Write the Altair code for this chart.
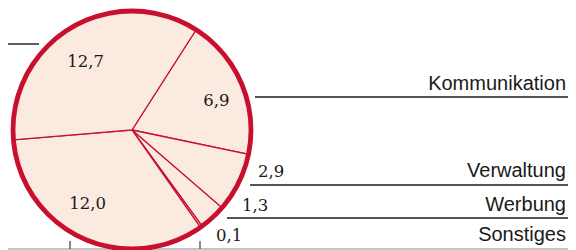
import math
import altair as alt
import pandas as pd

# ---------------- data ----------------
segments = ["Kommunikation", "Verwaltung", "Werbung", "Sonstiges", "Segment 5", "Segment 6"]
values = [6.9, 2.9, 1.3, 0.1, 12.0, 12.7]
value_text = ["6,9", "2,9", "1,3", "0,1", "12,0", "12,7"]
inside = [True, False, False, False, True, True]
named_rows = ["Kommunikation", "Verwaltung", "Werbung", "Sonstiges"]

# ---------------- layout (pixels, page offset removed) ----------------
OFF = 8
W, H = 576 - 2 * OFF, 250 - OFF
CX, CY, R = 132 - OFF, 130 - OFF, 119
START = math.radians(32.6)
RED = "#c8102e"
FILL = "#fbeadf"
INK = "#1a1a1a"

# small nudges for the labels inside the pie (dx, dy)
inner_nudge = {"Kommunikation": (5, 4), "Segment 5": (-8, -4), "Segment 6": (-2, 6)}

row_baseline = {"Kommunikation": 82, "Verwaltung": 169, "Werbung": 203, "Sonstiges": 233}
row_line_y = {"Kommunikation": 89, "Verwaltung": 177, "Werbung": 210, "Sonstiges": 241}
row_line_x0 = {"Kommunikation": 247, "Verwaltung": 242, "Werbung": 219, "Sonstiges": 0}
row_num_x = {"Kommunikation": None, "Verwaltung": 250, "Werbung": 234, "Sonstiges": 208}
row_line_color = {"Kommunikation": INK, "Verwaltung": INK, "Werbung": INK, "Sonstiges": "#b0b0b0"}

df = pd.DataFrame({"seg": segments, "value": values, "txt": value_text, "ord": list(range(len(values)))})

txt_of = dict(zip(segments, value_text))
inside_of = dict(zip(segments, inside))
rows = pd.DataFrame({
    "seg": named_rows,
    "base": [row_baseline[s] for s in named_rows],
    "ly": [row_line_y[s] for s in named_rows],
    "lx0": [row_line_x0[s] for s in named_rows],
    "lx1": [W for s in named_rows],
    "lcol": [row_line_color[s] for s in named_rows],
    "nx": [row_num_x[s] if row_num_x[s] is not None else 0 for s in named_rows],
    "ntxt": ["" if inside_of[s] else txt_of[s] for s in named_rows],
})

extra_lines = pd.DataFrame({"lx0": [0], "lx1": [31], "ly": [36], "lcol": [INK]})
ticks = pd.DataFrame({"tx": [62, 192], "ty0": [233, 233], "ty1": [241, 241]})

# ---------------- layers ----------------
theta = alt.Theta("value:Q", stack=True, scale=alt.Scale(range=[START, START + 2 * math.pi]))
base = alt.Chart(df).encode(
    theta=theta, order=alt.Order("ord:Q"), x=alt.value(CX), y=alt.value(CY)
)

leader = alt.Chart(rows).mark_rule(strokeWidth=1.4).encode(
    x=alt.X("lx0:Q", scale=None, axis=None),
    x2="lx1:Q",
    y=alt.Y("ly:Q", scale=None, axis=None),
    color=alt.Color("lcol:N", scale=None, legend=None),
)
leader2 = alt.Chart(extra_lines).mark_rule(strokeWidth=1.4).encode(
    x=alt.X("lx0:Q", scale=None, axis=None),
    x2="lx1:Q",
    y=alt.Y("ly:Q", scale=None, axis=None),
    color=alt.Color("lcol:N", scale=None, legend=None),
)
tick_marks = alt.Chart(ticks).mark_rule(strokeWidth=1.4, color="#555555").encode(
    x=alt.X("tx:Q", scale=None, axis=None),
    y=alt.Y("ty0:Q", scale=None, axis=None),
    y2="ty1:Q",
)

pie = base.mark_arc(radius=R, fill=FILL, stroke=RED, strokeWidth=1.3)

ring = alt.Chart(pd.DataFrame({"k": [0]})).mark_arc(
    theta=0, theta2=2 * math.pi, radius=R - 2.4, radius2=R + 2.4, fill=RED, stroke=None
).encode(x=alt.value(CX), y=alt.value(CY))

inner_layers = []
for seg, (ndx, ndy) in inner_nudge.items():
    inner_layers.append(
        base.transform_calculate(t=f"datum.seg == '{seg}' ? datum.txt : ''")
        .mark_text(
            radius=86, dx=ndx, dy=ndy, font="DejaVu Serif", fontSize=16.5,
            color=INK, baseline="middle", align="center",
        )
        .encode(text="t:N")
    )

cat_labels = alt.Chart(rows).mark_text(
    align="right", baseline="alphabetic", font="Liberation Sans", fontSize=20, color=INK
).encode(x=alt.value(558), y=alt.Y("base:Q", scale=None, axis=None), text="seg:N")

num_labels = alt.Chart(rows).mark_text(
    align="left", baseline="alphabetic", font="DejaVu Serif", fontSize=16.5, color=INK
).encode(
    x=alt.X("nx:Q", scale=None, axis=None),
    y=alt.Y("base:Q", scale=None, axis=None),
    text="ntxt:N",
)

chart = alt.layer(
    leader, leader2, tick_marks, pie, ring, *inner_layers, cat_labels, num_labels
).resolve_scale(x="independent", y="independent", theta="shared").properties(
    width=W, height=H, autosize="none", padding=0
).configure_view(stroke=None)

chart.save("out.html", embed_options={"renderer": "svg", "actions": False})
